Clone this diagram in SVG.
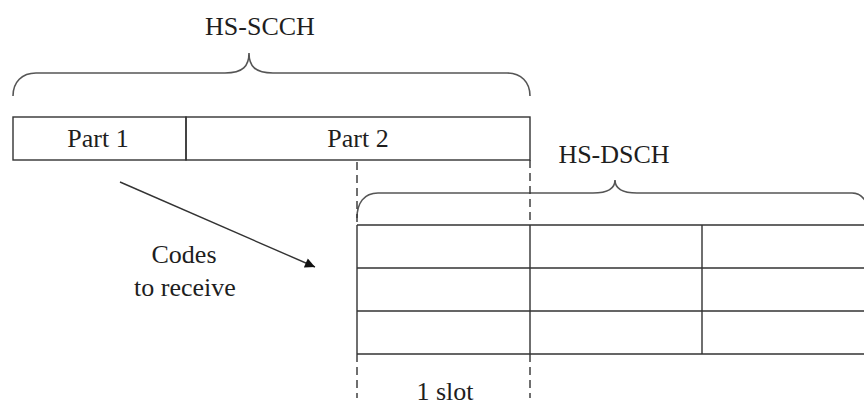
<svg xmlns="http://www.w3.org/2000/svg" width="864" height="406" viewBox="0 0 864 406">
<defs>
<style>
.t{font-family:"Liberation Serif","Times New Roman",serif;font-size:26px;fill:#1e1e1e;text-anchor:middle}
.ln{stroke:#333;stroke-width:1.4;fill:none}
.br{stroke:#555;stroke-width:1.6;fill:none}
.da{stroke:#333;stroke-width:1.4;fill:none;stroke-dasharray:8 5}
</style>
<marker id="ah" viewBox="0 0 10 10" refX="10" refY="5" markerWidth="17" markerHeight="10" markerUnits="userSpaceOnUse" orient="auto">
<path d="M0,0 L10,5 L0,10 z" fill="#111"/>
</marker>
</defs>
<rect width="864" height="406" fill="#fff"/>
<g id="hs-scch">
<path class="br" d="M13 96 C13 82 22 73 36 73 L225 73 C243 73 249 66 249 53 C249 66 255 73 273 73 L507 73 C521 73 530 82 530 96"/>
<text class="t" x="260" y="35">HS-SCCH</text>
</g>
<g id="part1">
<rect class="ln" x="13" y="117" width="173" height="43"/>
<text class="t" x="98" y="147">Part 1</text>
</g>
<g id="part2">
<rect class="ln" x="186" y="117" width="344" height="43"/>
<text class="t" x="358" y="147">Part 2</text>
</g>
<g id="hs-dsch">
<path class="br" d="M357 218 C357 203 364 193 378 193 L593 193 C608 193 615 188 615 180 C615 188 622 193 637 193 L852 193 C862 193 870 203 870 218"/>
<text class="t" x="614" y="163">HS-DSCH</text>
</g>
<g id="grid">
<path class="ln" d="M357 225 H864 M357 268 H864 M357 311 H864 M357 354 H864 M357 225 V354 M530 225 V354 M702 225 V354"/>
</g>
<g id="slot">
<path class="da" d="M357 162 V225 M357 354 V398 M530 160 V225 M530 354 V398"/>
<text class="t" x="445" y="400">1 slot</text>
</g>
<g id="connectors">
<line class="ln" x1="120" y1="182" x2="315" y2="267" marker-end="url(#ah)"/>
</g>
<g id="codes">
<text class="t" x="184" y="263">Codes</text>
<text class="t" x="185" y="296">to receive</text>
</g>
</svg>
